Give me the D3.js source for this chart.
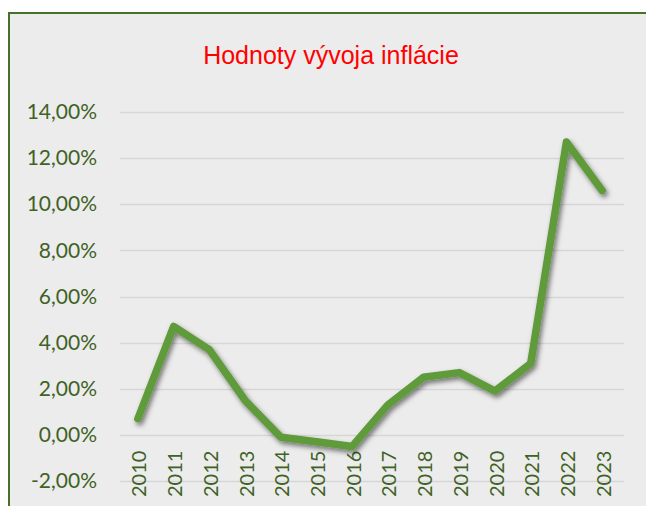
<!DOCTYPE html>
<html>
<head>
<meta charset="utf-8">
<script src="https://cdn.jsdelivr.net/npm/d3@7"></script>
<style>
  body { margin: 0; background: #fff; }
</style>
</head>
<body>
<div id="chart"></div>
<script>
// data
var years = ['2010', '2011', '2012', '2013', '2014', '2015', '2016',
    '2017', '2018', '2019', '2020', '2021', '2022', '2023'];
var inflation = [0.7, 4.7, 3.7, 1.5, -0.1, -0.3, -0.5,
    1.3, 2.5, 2.7, 1.9, 3.1, 12.7, 10.6];
var yTicks = [-2, 0, 2, 4, 6, 8, 10, 12, 14];
var title = 'Hodnoty vývoja inflácie';

var W = 646, H = 506;
var margin = {top: 112, right: 22, bottom: 25, left: 120};

var svg = d3.select('#chart').append('svg')
    .attr('width', W)
    .attr('height', H);

// drop shadow for the line
var defs = svg.append('defs');
var f = defs.append('filter').attr('id', 'shadow')
    .attr('x', '-10%').attr('y', '-10%').attr('width', '120%').attr('height', '120%');
f.append('feDropShadow')
    .attr('dx', 2).attr('dy', 3)
    .attr('stdDeviation', 2.5)
    .attr('flood-color', '#000')
    .attr('flood-opacity', 0.5);

// chart area with border
svg.append('rect')
    .attr('x', 9).attr('y', 13)
    .attr('width', W).attr('height', H)
    .style('fill', '#ececec')
    .style('stroke', '#47702b')
    .style('stroke-width', 2);

svg.append('text')
    .attr('x', 331).attr('y', 64)
    .attr('text-anchor', 'middle')
    .style('font-family', '"Liberation Sans", Arial, sans-serif')
    .style('font-size', '25px')
    .style('fill', '#ff0000')
    .text(title);

var x = d3.scalePoint()
    .domain(years)
    .range([margin.left, W - margin.right - 4])
    .padding(0.5);

var y = d3.scaleLinear()
    .domain([-2, 14])
    .range([481, 112]);

// gridlines
svg.append('g').selectAll('line')
    .data(yTicks)
    .enter().append('line')
        .attr('x1', margin.left)
        .attr('x2', 624)
        .attr('y1', function(d) { return Math.round(y(d)) + 0.5; })
        .attr('y2', function(d) { return Math.round(y(d)) + 0.5; })
        .style('stroke', '#d6d6d6')
        .style('stroke-width', 1.5);

// slovak style: comma decimals, plain hyphen for minus
var fmt = function(d) {
    return d3.format('.2f')(d).replace('.', ',').replace('\u2212', '-') + '%';
};
var labelFont = 'Lato, "Open Sans", sans-serif';

var yAxis = d3.axisLeft(y)
    .tickValues(yTicks)
    .tickSize(0)
    .tickPadding(0)
    .tickFormat(fmt);

svg.append('g')
    .attr('transform', 'translate(97,0)')
    .call(yAxis)
    .call(function(g) { g.select('.domain').remove(); })
    .selectAll('text')
        .style('font-family', labelFont)
        .style('font-size', '21px')
        .style('fill', '#3f6226');

var xAxis = d3.axisBottom(x).tickSize(0).tickPadding(0);

svg.append('g')
    .attr('transform', 'translate(0,451)')
    .call(xAxis)
    .call(function(g) { g.select('.domain').remove(); })
    .selectAll('text')
        .attr('transform', 'rotate(-90)')
        .attr('x', -46)
        .attr('y', 1)
        .attr('dy', '0.35em')
        .style('text-anchor', 'start')
        .style('font-family', labelFont)
        .style('font-size', '20px')
        .style('fill', '#3f6226');

var line = d3.line()
    .x(function(d, i) { return x(years[i]); })
    .y(function(d) { return y(d); });

svg.append('path')
    .datum(inflation)
    .attr('d', line)
    .attr('filter', 'url(#shadow)')
    .style('fill', 'none')
    .style('stroke', '#5f9a3a')
    .style('stroke-width', 7.5)
    .style('stroke-linejoin', 'round')
    .style('stroke-linecap', 'round');
</script>
</body>
</html>
